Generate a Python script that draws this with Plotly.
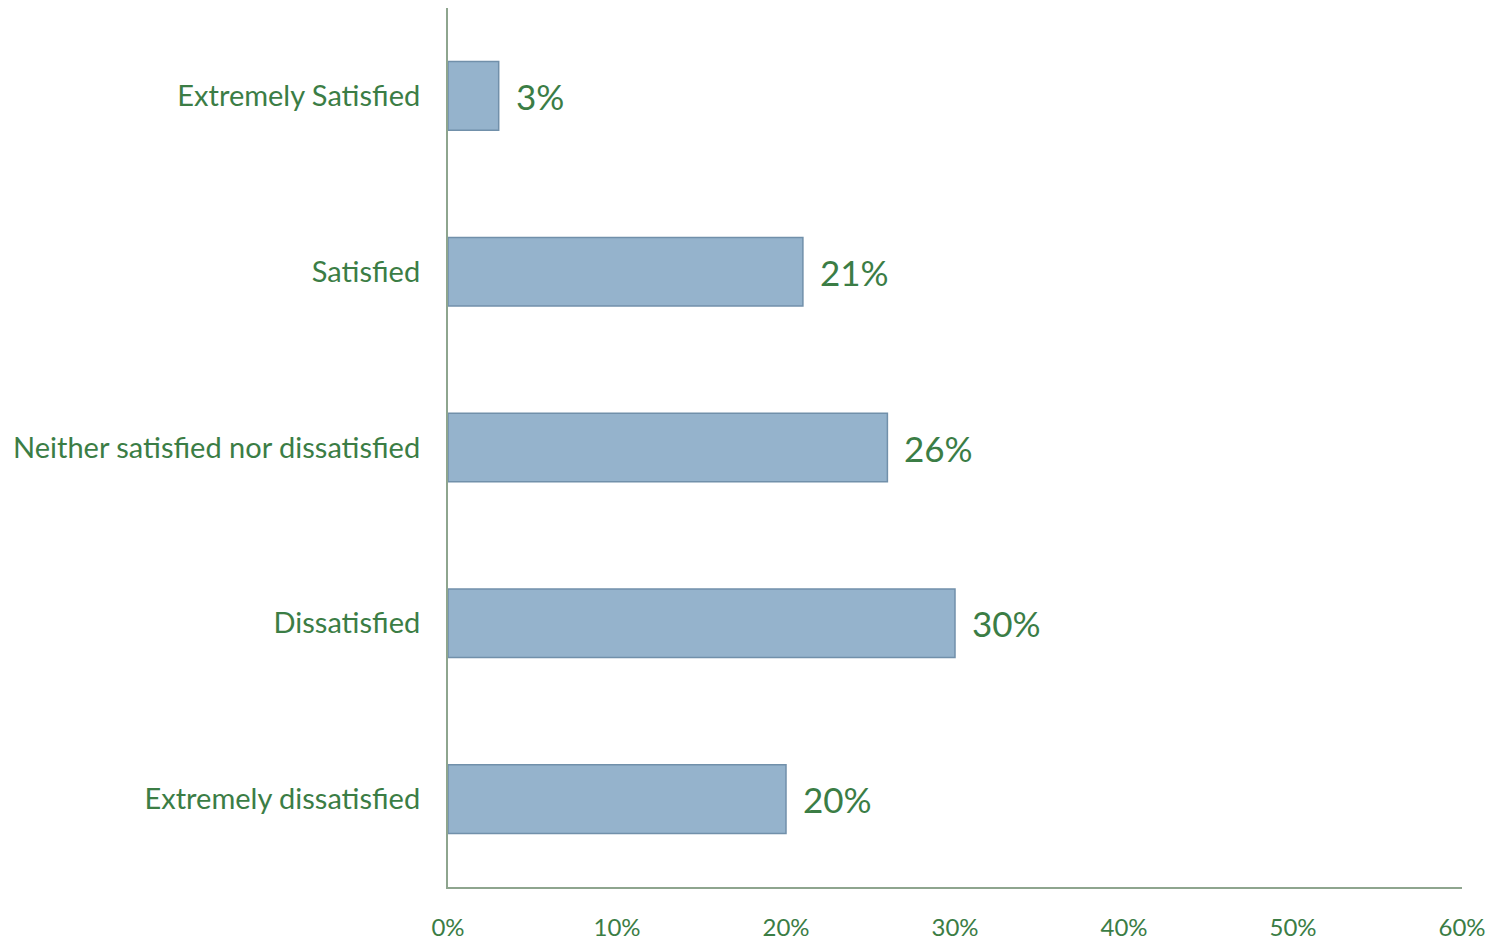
import plotly.graph_objects as go

# ── Data ──────────────────────────────────────────────────────────────────────
categories = [
    "Extremely Satisfied",
    "Satisfied",
    "Neither satisfied nor dissatisfied",
    "Dissatisfied",
    "Extremely dissatisfied",
]
shares = [0.03, 0.21, 0.26, 0.30, 0.20]

# ── Styles ────────────────────────────────────────────────────────────────────
GREEN_TEXT = "#3b7d45"
AXIS_LINE = "#8ea58e"
BAR_FILL = "#95b3cc"
BAR_EDGE = "#7190aa"
FONT = "Century Gothic, Lato, sans-serif"

fig = go.Figure()

fig.add_trace(go.Bar(
    x=shares,
    y=categories,
    orientation="h",
    marker=dict(color=BAR_FILL, line=dict(color=BAR_EDGE, width=1.5)),
    hoverinfo="skip",
    showlegend=False,
))

# value labels to the right of each bar
for cat, val in zip(categories, shares):
    fig.add_annotation(
        x=val, y=cat, xref="x", yref="y",
        text=f"{val:.0%}",
        showarrow=False, xanchor="left", xshift=15,
        font=dict(size=35, color=GREEN_TEXT, family=FONT),
    )

# page body adds an 8px offset, margins below account for it
fig.update_layout(
    width=1498, height=939,
    margin=dict(l=440, r=44, t=0, b=60),
    plot_bgcolor="#FFFFFF",
    paper_bgcolor="#FFFFFF",
    bargap=0.61,
    font=dict(family=FONT, color=GREEN_TEXT),
    xaxis=dict(
        range=[0, 0.6],
        dtick=0.1,
        tickformat=".0%",
        showgrid=False,
        zeroline=False,
        showline=True,
        linecolor=AXIS_LINE,
        linewidth=2,
        ticks="",
        automargin=False,
        ticklabelstandoff=18,
        tickfont=dict(size=24, color=GREEN_TEXT),
    ),
    yaxis=dict(
        autorange="reversed",
        showgrid=False,
        zeroline=False,
        showline=True,
        linecolor=AXIS_LINE,
        linewidth=2,
        ticks="",
        automargin=False,
        ticklabelstandoff=20,
        tickfont=dict(size=29, color=GREEN_TEXT),
    ),
)

fig.write_html("out.html")
